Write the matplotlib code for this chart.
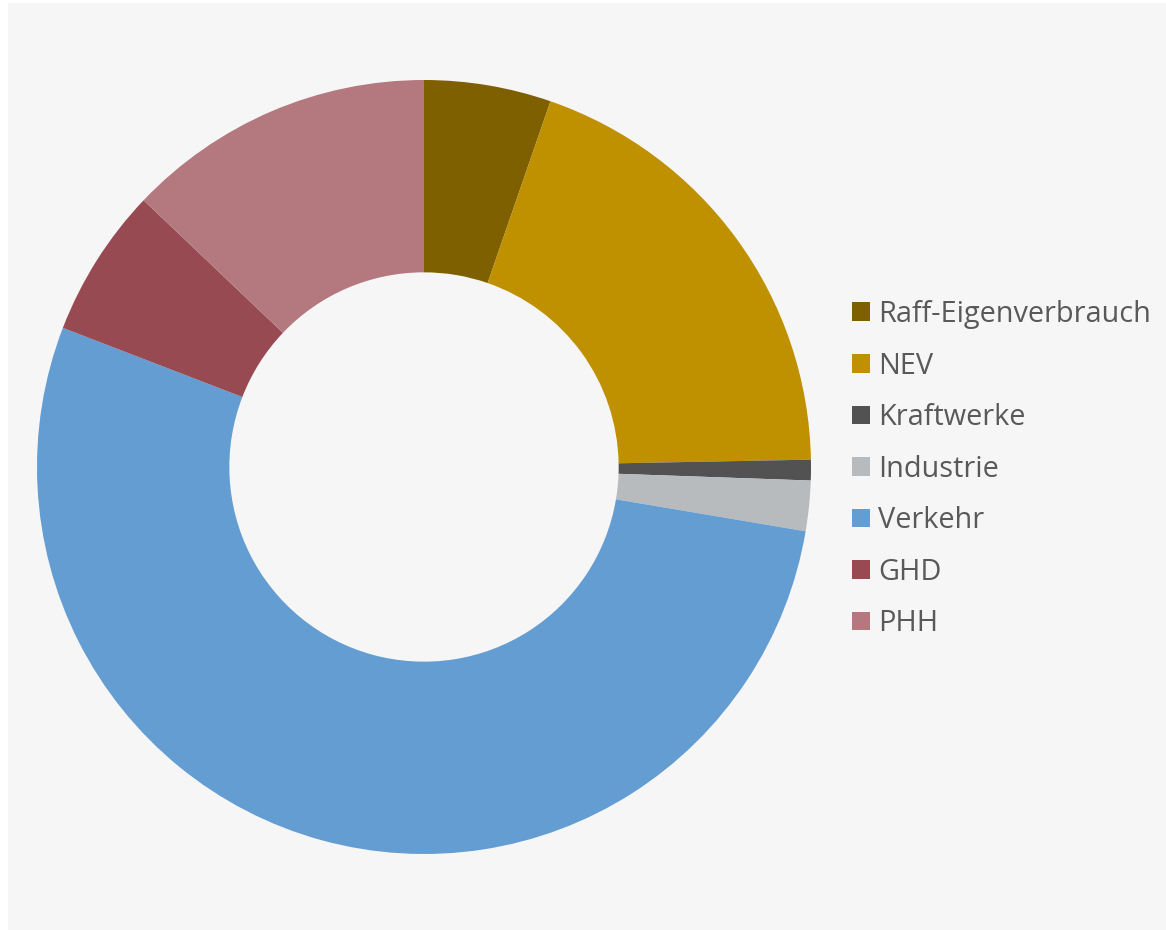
import matplotlib
matplotlib.use("Agg")
import matplotlib.pyplot as plt
from matplotlib.patches import Rectangle, Patch

# Endenergieverbrauch nach Sektoren (Anteile in %)
categories = ["Raff-Eigenverbrauch", "NEV", "Kraftwerke", "Industrie", "Verkehr", "GHD", "PHH"]
shares = [5.3, 19.4, 0.86, 2.1, 53.2, 6.25, 12.9]
colors = ["#7f6000", "#bf9000", "#525252", "#b7bbbe", "#639dd1", "#974a52", "#b3797f"]

W, H = 1166, 930
fig = plt.figure(figsize=(W / 100, H / 100), dpi=100, facecolor="white")

# light panel behind the chart
fig.patches.append(Rectangle((8 / W, 0), 1 - 8 / W, 1 - 3 / H, transform=fig.transFigure,
                             facecolor="#f6f6f6", edgecolor="none", zorder=-10))

cx, cy, R = 424, 467, 387
ax = fig.add_axes([(cx - R) / W, (H - cy - R) / H, 2 * R / W, 2 * R / H], zorder=2)
ax.set_facecolor("none")
wedges, _ = ax.pie(shares, colors=colors, startangle=90, counterclock=False,
                   radius=1.0, wedgeprops=dict(width=0.497, edgecolor="none"))
ax.set_xlim(-1, 1)
ax.set_ylim(-1, 1)
ax.set_aspect("equal")
ax.axis("off")

handles = [Patch(facecolor=c, edgecolor="none") for c in colors]
leg = fig.legend(handles, categories, loc="upper left",
                 bbox_to_anchor=(852 / W, 1 - 300 / H), frameon=False,
                 prop=dict(family="Open Sans", size=20.8), labelcolor="#595959",
                 handlelength=0.62, handleheight=0.62, handletextpad=0.28,
                 labelspacing=0.78, borderaxespad=0, borderpad=0)
leg.set_zorder(3)

fig.savefig("out.png", dpi=100, facecolor="white")
